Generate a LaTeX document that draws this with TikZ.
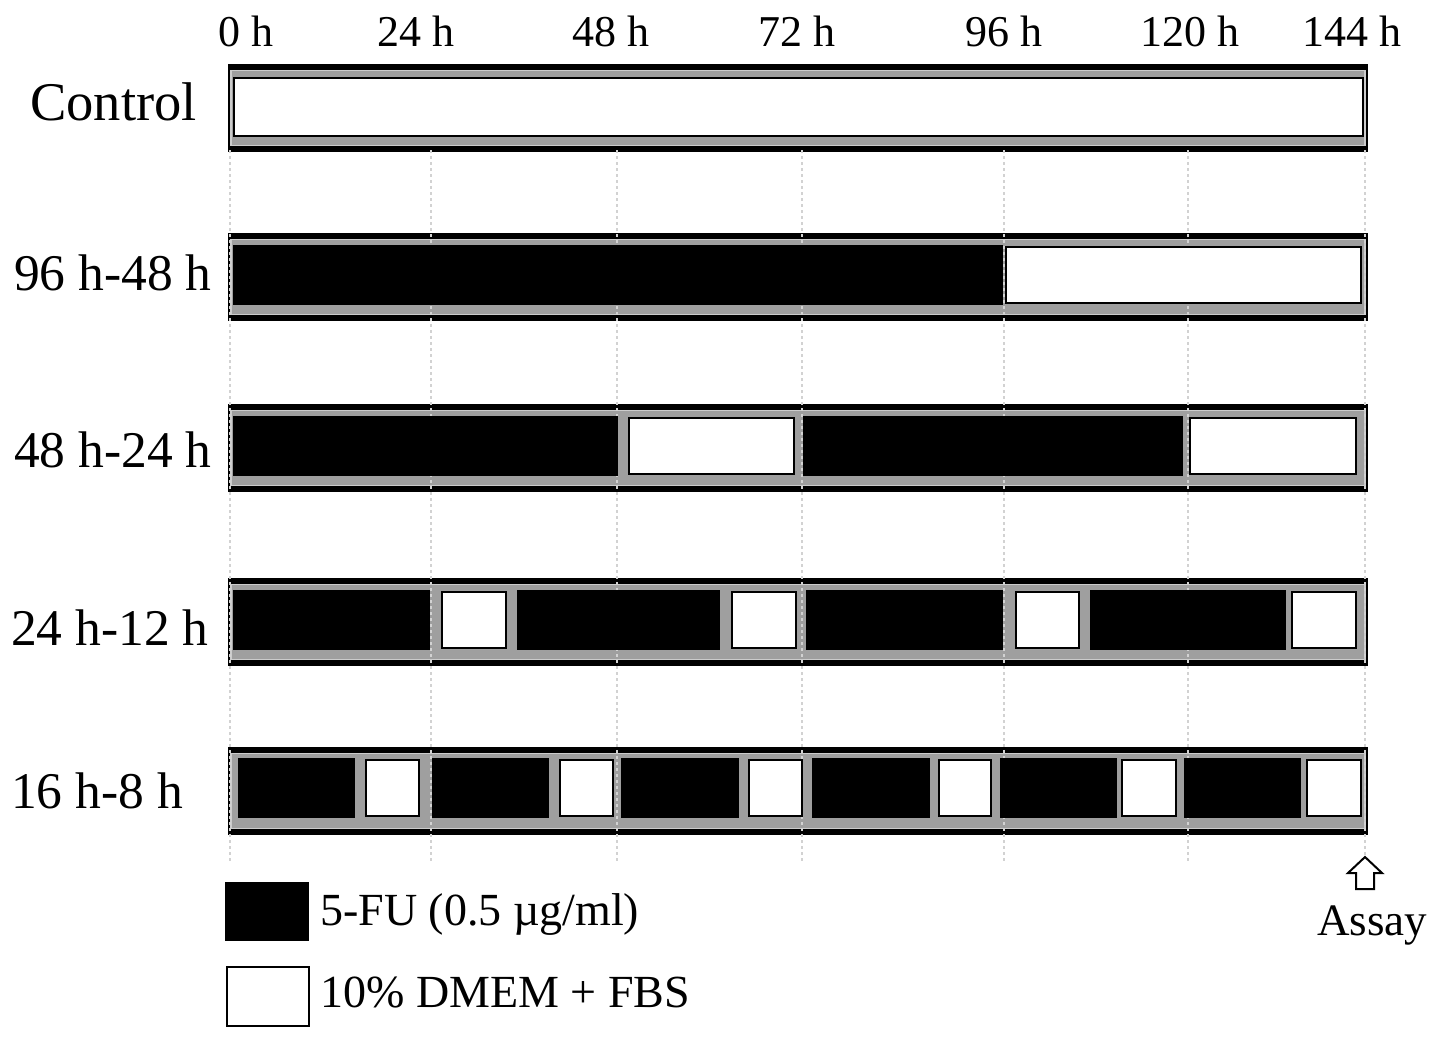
\documentclass[tikz,border=0pt]{standalone}
\usepackage{fontspec}
\setmainfont{Liberation Serif}
\begin{document}
\begin{tikzpicture}[x=1pt,y=-1pt,
  rowlab/.style={anchor=base west,inner sep=0pt,font=\fontsize{51.5}{60}\selectfont},
  toplab/.style={anchor=base,inner sep=0pt,font=\fontsize{44}{50}\selectfont},
  leglab/.style={anchor=base west,inner sep=0pt,font=\fontsize{46}{54}\selectfont},
  gridline/.style={draw=gray!35,line width=1.2pt,dash pattern=on 3pt off 3pt},
  outerframe/.style={fill=black},
  band/.style={draw=gray!40,fill=gray!75,line width=1.5pt},
  fu/.style={fill=black},
  med/.style={fill=white,draw=black,line width=2.5pt}]
\useasboundingbox (0,0) rectangle (1441,1044);
% frames
\foreach \t in {64,233,404,578,747}{
  \fill[outerframe] (228,\t) rectangle (1368,\t+88);
  \draw[band] (231,\t+6.5) rectangle (1365,\t+81.5);
}
% grid
\foreach \gx in {230,431,617,802,1004,1188,1365}{
  \draw[gridline] (\gx,150) -- (\gx,862);
}
% Control
\draw[med] (234,78) rectangle (1363,136);
% 96h-48h
\def\t{233}
\fill[fu] (233,\t+12) rectangle (1003,\t+72);
\draw[med] (1006,\t+14) rectangle (1361,\t+70);
% 48h-24h
\def\t{404}
\fill[fu] (233,\t+12) rectangle (618,\t+72);
\draw[med] (629,\t+14) rectangle (794,\t+70);
\fill[fu] (803,\t+12) rectangle (1183,\t+72);
\draw[med] (1190,\t+14) rectangle (1356,\t+70);
% 24h-12h
\def\t{578}
\foreach \a/\b in {233/430,517/720,806/1003,1090/1286}{\fill[fu] (\a,\t+12) rectangle (\b,\t+72);}
\foreach \a/\b in {442/506,732/796,1016/1079,1292/1356}{\draw[med] (\a,\t+14) rectangle (\b,\t+70);}
% 16h-8h
\def\t{747}
\foreach \a/\b in {238/355,432/549,621/739,812/930,1000/1117,1184/1301}{\fill[fu] (\a,\t+11) rectangle (\b,\t+71);}
\foreach \a/\b in {366/419,560/613,749/802,939/991,1122/1176,1307/1361}{\draw[med] (\a,\t+13) rectangle (\b,\t+69);}
% labels
\node[rowlab,font=\fontsize{54.5}{62}\selectfont] (lctrl) at (30,120) {Control};
\node[rowlab] (l96) at (14,290) {96 h-48 h};
\node[rowlab] (l48) at (14,467) {48 h-24 h};
\node[rowlab] (l24) at (11,645) {24 h-12 h};
\node[rowlab] (l16) at (11,808) {16 h-8 h};
\node[toplab] (t0) at (246,46) {0 h};
\node[toplab] (t24) at (416,46) {24 h};
\node[toplab] (t48) at (611,46) {48 h};
\node[toplab] (t72) at (797,46) {72 h};
\node[toplab] (t96) at (1004,46) {96 h};
\node[toplab] (t120) at (1190,46) {120 h};
\node[toplab] (t144) at (1352,46) {144 h};
% assay arrow
\draw[line width=2pt,fill=white,line join=miter] (1365,857) -- (1382,873) -- (1374,873) -- (1374,889) -- (1356,889) -- (1356,873) -- (1348,873) -- cycle;
\node[anchor=base,inner sep=0pt,font=\fontsize{45}{52}\selectfont] (assay) at (1372,935) {Assay};
% legend
\fill[black] (225,882) rectangle (309,941);
\draw[black,line width=2.5pt,fill=white] (227,967) rectangle (309,1026);
\node[leglab] (leg1) at (320,925) {5-FU (0.5 µg/ml)};
\node[leglab] (leg2) at (320,1007) {10\% DMEM + FBS};
\end{tikzpicture}
\end{document}
